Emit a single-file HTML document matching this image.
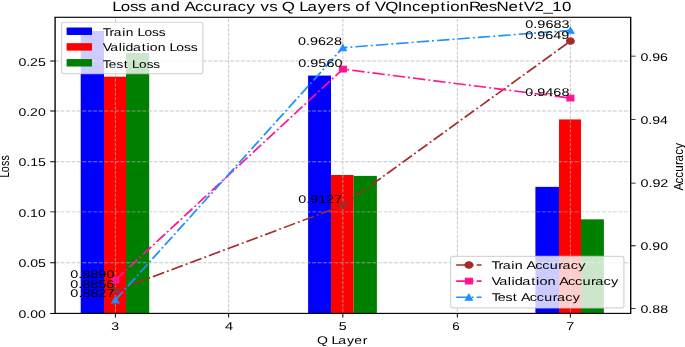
<!DOCTYPE html>
<html><head><meta charset="utf-8"><title>Loss and Accuracy vs Q Layers of VQInceptionResNetV2_10</title>
<style>html,body{margin:0;padding:0;background:#fff;overflow:hidden}svg{display:block;will-change:transform}text{font-family:"Liberation Sans",sans-serif;font-kerning:none;text-rendering:geometricPrecision}</style></head>
<body><svg width="685" height="347" viewBox="0 0 685 413.1" preserveAspectRatio="none">
<rect width="685" height="413.1" fill="#fff"/>
<rect x="80.7" y="36.93" width="23.3" height="336.17" fill="#0000ff"/>
<rect x="308.1" y="89.97" width="22.9" height="283.12" fill="#0000ff"/>
<rect x="535.4" y="222.47" width="23.6" height="150.62" fill="#0000ff"/>
<rect x="104" y="91.3" width="22" height="281.8" fill="#ff0000"/>
<rect x="331" y="208.31" width="22.6" height="164.78" fill="#ff0000"/>
<rect x="559" y="142.18" width="22" height="230.91" fill="#ff0000"/>
<rect x="126" y="63.09" width="23.2" height="310" fill="#008000"/>
<rect x="353.6" y="209.39" width="23.3" height="163.7" fill="#008000"/>
<rect x="581" y="261.12" width="22.9" height="111.98" fill="#008000"/>
<path d="M115.4 373.1V20.12M228.6 373.1V20.12M342.85 373.1V20.12M457.35 373.1V20.12M570.4 373.1V20.12" fill="none" stroke="#b0b0b0" stroke-opacity="0.7" stroke-width="1.02" stroke-dasharray="3.82 1.65" stroke-dashoffset="-2"/>
<path d="M55.1 312.74H630.7M55.1 252.26H630.7M55.1 192.62H630.7M55.1 132.14H630.7M55.1 72.62H630.7" fill="none" stroke="#b0b0b0" stroke-opacity="0.7" stroke-width="1.02" stroke-dasharray="3.82 1.65"/>
<rect x="61.5" y="26.55" width="141.4" height="61.07" rx="2.54" ry="2.54" fill="#fff" fill-opacity="0.8" stroke="#cccccc" stroke-opacity="0.8" stroke-width="1.27"/>
<rect x="66.6" y="32.76" width="25.38" height="8.88" fill="#0000ff"/>
<rect x="66.6" y="51.39" width="25.38" height="8.88" fill="#ff0000"/>
<rect x="66.6" y="70.32" width="25.38" height="8.88" fill="#008000"/>
<g fill="#000"><text transform="scale(1.0355,1)" x="99.31 105.83 109.92 118.06 121.44 128.98 132.84 139.53 146.92 153.3" y="42.32" font-size="13.26">Train Loss</text><text transform="scale(1.0613,1)" x="96.72 103.8 111.8 115.12 118.28 125.33 133.6 138.01 141.1 148.56 156 159.66 166.2 173.41 179.63" y="61.23" font-size="13.26">Validation Loss</text><text transform="scale(1.0242,1)" x="100.45 106.31 113.77 120.77 125.07 129.01 135.77 143.23 149.67" y="80.37" font-size="13.26">Test Loss</text></g>
<path d="M50.2 373.21H55.1M50.2 312.74H55.1M50.2 252.26H55.1M50.2 192.62H55.1M50.2 132.14H55.1M50.2 72.62H55.1M115.4 373.1v4.9M228.6 373.1v4.9M342.85 373.1v4.9M457.35 373.1v4.9M570.4 373.1v4.9M630.7 367.5h4.9M630.7 292.5h4.9M630.7 217.98h4.9M630.7 142.38h4.9M630.7 66.9h4.9" stroke="#000" stroke-width="1.02" fill="none"/>
<g fill="#000"><text transform="scale(1.0441,1)" x="17.65 25.13 28.87 36.35" y="378.13" font-size="13.45">0.00</text><text transform="scale(1.0547,1)" x="17.46 24.94 28.68 36.12" y="318.12" font-size="13.45">0.05</text><text transform="scale(1.0441,1)" x="17.65 25.13 28.79 36.35" y="258.11" font-size="13.45">0.10</text><text transform="scale(1.0547,1)" x="17.46 24.94 28.61 36.12" y="198.1" font-size="13.45">0.15</text><text transform="scale(1.0441,1)" x="17.65 25.13 28.71 36.35" y="138.1" font-size="13.45">0.20</text><text transform="scale(1.0547,1)" x="17.46 24.94 28.53 36.12" y="78.08" font-size="13.45">0.25</text></g>
<g fill="#000"><text transform="scale(1.0454,1)" x="106.52" y="392.51" font-size="13.45">3</text><text transform="scale(1.0902,1)" x="206.37" y="392.51" font-size="13.45">4</text><text transform="scale(1.0638,1)" x="318.52" y="392.51" font-size="13.45">5</text><text transform="scale(0.9967,1)" x="453.85" y="392.51" font-size="13.45">6</text><text transform="scale(1.0704,1)" x="529.11" y="392.51" font-size="13.45">7</text></g>
<g fill="#000"><text transform="scale(1.0572,1)" x="605.76 613.24 616.98 624.46" y="372.2" font-size="13.45">0.88</text><text transform="scale(1.0563,1)" x="606.32 613.8 617.51 625.02" y="297.23" font-size="13.45">0.90</text><text transform="scale(1.0735,1)" x="596.56 604.04 607.74 615.1" y="222.25" font-size="13.45">0.92</text><text transform="scale(1.0511,1)" x="609.3 616.78 620.48 628" y="147.29" font-size="13.45">0.94</text><text transform="scale(1.0545,1)" x="607.32 614.79 618.5 626.01" y="72.31" font-size="13.45">0.96</text></g>
<g fill="#000"><text transform="scale(1.0600,1)" x="298.97 308.91 312.72 319.13 327.29 334.29 342.21" y="409.92" font-size="13.26">Q Layer</text></g>
<g fill="#000"><text transform="translate(9.09,210.48) rotate(-90) scale(0.9640,1)" x="-1.14 5.78 13.41 20.01" y="0" font-size="13.26">Loss</text></g>
<g fill="#000"><text transform="translate(682.54,226.37) rotate(-90) scale(1.0408,1)" x="-0.45 7.64 14.18 20.98 28.91 32.84 40.45 47.39" y="0" font-size="13.26">Accuracy</text></g>
<polyline points="115.39,346.18 342.9,244.59 570.41,48.91" fill="none" stroke="#a52a2a" stroke-width="1.9" stroke-dasharray="12.38 3.09 1.93 3.09"/>
<circle cx="115.39" cy="346.18" r="3.81" fill="#a52a2a" stroke="#a52a2a" stroke-width="1.27"/>
<circle cx="342.9" cy="244.59" r="3.81" fill="#a52a2a" stroke="#a52a2a" stroke-width="1.27"/>
<circle cx="570.41" cy="48.91" r="3.81" fill="#a52a2a" stroke="#a52a2a" stroke-width="1.27"/>
<polyline points="115.39,333.43 342.9,82.27 570.41,116.76" fill="none" stroke="#ff1493" stroke-width="1.9" stroke-dasharray="12.38 3.09 1.93 3.09"/>
<rect x="111.96" y="330.01" width="6.85" height="6.85" fill="#ff1493" stroke="#ff1493" stroke-width="1.27"/>
<rect x="339.47" y="78.85" width="6.85" height="6.85" fill="#ff1493" stroke="#ff1493" stroke-width="1.27"/>
<rect x="566.98" y="113.33" width="6.85" height="6.85" fill="#ff1493" stroke="#ff1493" stroke-width="1.27"/>
<polyline points="115.39,357.05 342.9,56.78 570.41,36.16" fill="none" stroke="#1e90ff" stroke-width="1.9" stroke-dasharray="12.38 3.09 1.93 3.09"/>
<path d="M115.39 353.55L111.89 360.55H118.89Z" fill="#1e90ff" stroke="#1e90ff" stroke-width="1.27"/>
<path d="M342.9 53.28L339.4 60.28H346.4Z" fill="#1e90ff" stroke="#1e90ff" stroke-width="1.27"/>
<path d="M570.41 32.66L566.91 39.67H573.91Z" fill="#1e90ff" stroke="#1e90ff" stroke-width="1.27"/>
<rect x="55.1" y="20.6" width="575.6" height="352.5" fill="none" stroke="#000" stroke-width="1.35"/>
<g fill="#000"><text transform="scale(1.0712,1)" x="65.65 73.13 76.87 84.35 91.79 99.31" y="343.2" font-size="13.45">0.8856</text><text transform="scale(1.0711,1)" x="278.42 285.9 289.6 297.04 304.45 312.06" y="241.62" font-size="13.45">0.9127</text><text transform="scale(1.0738,1)" x="489.16 496.64 500.34 507.86 515.34 522.79" y="46.52" font-size="13.45">0.9649</text><text transform="scale(1.0723,1)" x="65.58 73.06 76.8 84.28 91.73 99.24" y="330.45" font-size="13.45">0.8890</text><text transform="scale(1.0726,1)" x="278.12 285.6 289.3 296.77 304.3 311.78" y="79.89" font-size="13.45">0.9560</text><text transform="scale(1.0732,1)" x="489.45 496.92 500.63 508.15 515.62 523.11" y="114.38" font-size="13.45">0.9468</text><text transform="scale(1.0784,1)" x="65.21 72.69 76.43 83.91 91.23 98.84" y="354.07" font-size="13.45">0.8827</text><text transform="scale(1.0732,1)" x="277.58 285.06 288.77 296.28 303.61 311.25" y="53.81" font-size="13.45">0.9628</text><text transform="scale(1.0770,1)" x="487.74 495.22 498.92 506.43 513.92 521.42" y="33.79" font-size="13.45">0.9683</text></g>
<rect x="450.6" y="305.24" width="173.3" height="61.31" rx="2.54" ry="2.54" fill="#fff" fill-opacity="0.8" stroke="#cccccc" stroke-opacity="0.8" stroke-width="1.27"/>
<path d="M456.2 315.48h25.38" stroke="#a52a2a" stroke-width="1.9" stroke-dasharray="12.38 3.09 1.93 3.09"/>
<circle cx="468.89" cy="315.48" r="3.81" fill="#a52a2a" stroke="#a52a2a" stroke-width="1.27"/>
<path d="M456.2 334.64h25.38" stroke="#ff1493" stroke-width="1.9" stroke-dasharray="12.38 3.09 1.93 3.09"/>
<rect x="465.46" y="331.22" width="6.85" height="6.85" fill="#ff1493" stroke="#ff1493" stroke-width="1.27"/>
<path d="M456.2 353.81h25.38" stroke="#1e90ff" stroke-width="1.9" stroke-dasharray="12.38 3.09 1.93 3.09"/>
<path d="M468.89 350.31L465.39 357.31H472.39Z" fill="#1e90ff" stroke="#1e90ff" stroke-width="1.27"/>
<g fill="#000"><text transform="scale(1.0797,1)" x="455.31 461.69 465.62 473.6 476.82 484.25 487.67 495.75 502.29 509.07 517 520.93 528.53 535.46" y="320.29" font-size="13.26">Train Accuracy</text><text transform="scale(1.0964,1)" x="448.27 455.25 463.16 466.43 469.51 476.44 484.61 488.96 491.97 499.31 506.69 510.02 518.02 524.48 531.18 539.03 542.9 550.42 557.27" y="339.43" font-size="13.26">Validation Accuracy</text><text transform="scale(1.0745,1)" x="457.55 463.23 470.45 477.26 481.48 484.94 493.06 499.63 506.45 514.41 518.37 526.01 532.97" y="358.57" font-size="13.26">Test Accuracy</text></g>
<g fill="#000"><text transform="scale(1.0615,1)" x="105.75 113.69 122.47 130.04 137.7 141.78 151.43 160.53 169.65 173.92 183.78 191.77 200.07 209.73 214.56 223.84 232.31 240.59 245.52 253.71 261.37 265.52 277.42 281.95 289.6 299.35 307.71 317.17 322.46 330.12 334.76 344.15 348.74 353.01 362.82 374.66 379.22 388.06 396.28 405.41 414.96 420.32 424.12 433.2 441.72 451.71 460.48 467.83 479.08 488.54 493.3 503.58 512.06 520.2 529.52" y="12.75" font-size="15.91">Loss and Accuracy vs Q Layers of VQInceptionResNetV2_10</text></g>
</svg></body></html>
